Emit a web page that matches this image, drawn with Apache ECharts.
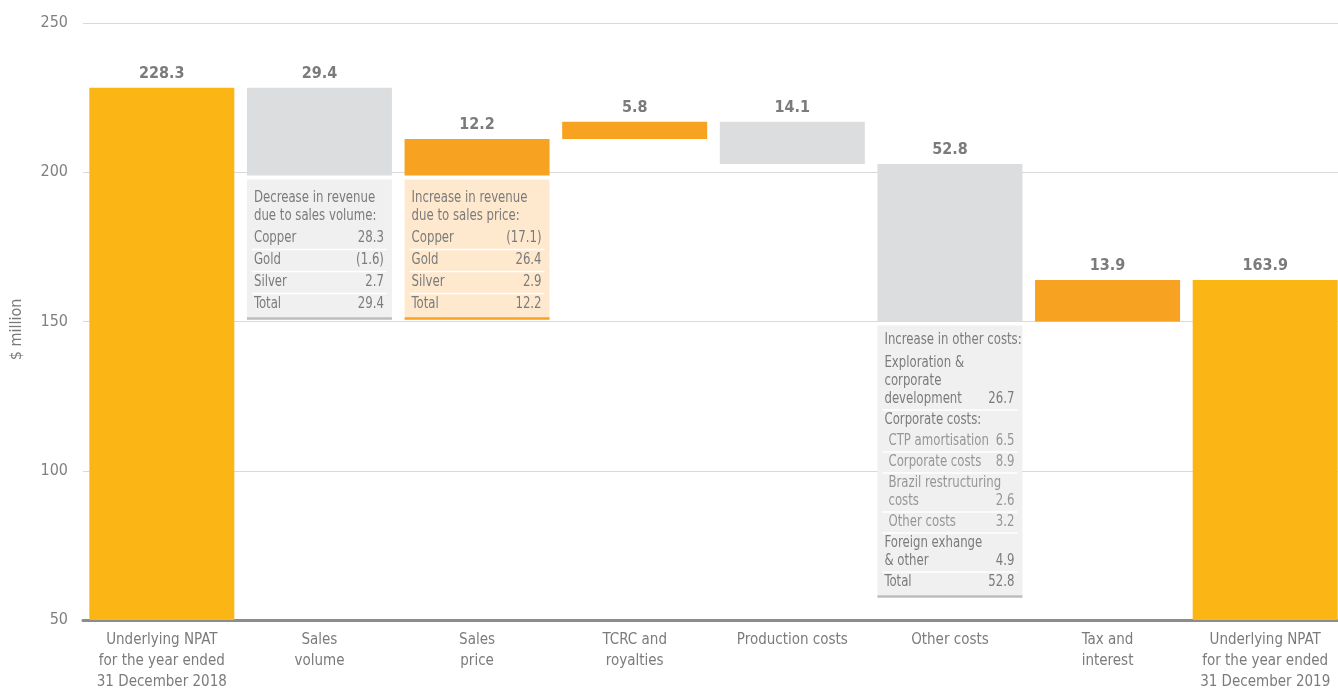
<!DOCTYPE html>
<html>
<head>
<meta charset="utf-8">
<script src="https://cdn.jsdelivr.net/npm/echarts@6/dist/echarts.min.js"></script>
<style>
html,body{margin:0;padding:0;background:#fff;}
#npatChart{width:1338px;height:688px;}
</style>
</head>
<body>
<div id="npatChart"></div>
<script>
// x axis categories
const categories = [
    'Underlying NPAT\nfor the year ended\n31 December 2018',
    'Sales\nvolume',
    'Sales\nprice',
    'TCRC and\nroyalties',
    'Production costs',
    'Other costs',
    'Tax and\ninterest',
    'Underlying NPAT\nfor the year ended\n31 December 2019'
];
// opening figure, movements (+ increase / - decrease), closing figure ($ million)
const openingNpat = 228.3;
const movements = [-29.4, 12.2, 5.8, -14.1, -52.8, 13.9];
const closingNpat = 163.9;
// y axis
const yMin = 50;
const yMax = 250;
const yStep = 50;

// breakdown tables shown under some bars
const volumeHeader = ['Decrease in revenue', 'due to sales volume:'];
const volumeRows = [
    {label: ['Copper'], value: '28.3'},
    {label: ['Gold'], value: '(1.6)'},
    {label: ['Silver'], value: '2.7'},
    {label: ['Total'], value: '29.4'}
];
const priceHeader = ['Increase in revenue', 'due to sales price:'];
const priceRows = [
    {label: ['Copper'], value: '(17.1)'},
    {label: ['Gold'], value: '26.4'},
    {label: ['Silver'], value: '2.9'},
    {label: ['Total'], value: '12.2'}
];
const otherHeader = ['Increase in other costs:'];
const otherRows = [
    {label: ['Exploration &', 'corporate', 'development'], value: '26.7'},
    {label: ['Corporate costs:'], value: ''},
    {label: ['CTP amortisation'], value: '6.5', sub: true},
    {label: ['Corporate costs'], value: '8.9', sub: true},
    {label: ['Brazil restructuring', 'costs'], value: '2.6', sub: true},
    {label: ['Other costs'], value: '3.2', sub: true},
    {label: ['Foreign exhange', '& other'], value: '4.9'},
    {label: ['Total'], value: '52.8'}
];

const FONT = '"Liberation Sans Narrow", "DejaVu Sans Condensed", sans-serif';
const TEXT_GREY = '#7b7b7b';

// build waterfall stacks
let base = [], ends = [], ups = [], downs = [];
let level = openingNpat;
base.push(0); ends.push(openingNpat); ups.push('-'); downs.push('-');
movements.forEach(m => {
    if (m >= 0) {
        base.push(level); ups.push(m); downs.push('-'); ends.push('-');
    } else {
        base.push(level + m); downs.push(-m); ups.push('-'); ends.push('-');
    }
    level = +(level + m).toFixed(1);
});
base.push(0); ends.push(closingNpat); ups.push('-'); downs.push('-');

let myChart = echarts.init(document.getElementById('npatChart'));

const valueLabel = {
    show: true,
    position: 'top',
    distance: 6,
    color: TEXT_GREY,
    fontFamily: FONT,
    fontWeight: 'bold',
    fontSize: 16,
    formatter: p => (+p.value).toFixed(1)
};

let option = {
    animation: false,
    grid: {left: 83, top: 23, width: 1261, height: 597, outerBoundsMode: 'none'},
    xAxis: {
        type: 'category',
        data: categories,
        axisTick: {show: false},
        axisLine: {lineStyle: {color: '#8c8c8c', width: 3}},
        axisLabel: {
            interval: 0,
            color: TEXT_GREY,
            fontFamily: FONT,
            fontSize: 15,
            lineHeight: 21,
            margin: 10
        }
    },
    yAxis: {
        type: 'value',
        min: yMin,
        max: yMax,
        interval: yStep,
        name: '$ million',
        nameLocation: 'middle',
        nameRotate: 90,
        nameGap: 58,
        nameTextStyle: {color: TEXT_GREY, fontFamily: FONT, fontSize: 16, padding: [0, 16, 0, 0]},
        axisLine: {show: false},
        axisTick: {show: false},
        axisLabel: {color: '#808080', fontFamily: FONT, fontSize: 16, margin: 15, padding: [8, 0, 0, 0]},
        splitLine: {lineStyle: {color: '#d9d9d9', width: 1}}
    },
    series: [
        {
            name: 'base', type: 'bar', stack: 'wf', barWidth: 145,
            itemStyle: {color: 'transparent'}, silent: true, data: base
        },
        {
            name: 'NPAT', type: 'bar', stack: 'wf', barWidth: 145,
            itemStyle: {color: '#fbb616'}, label: valueLabel, data: ends
        },
        {
            name: 'Increase', type: 'bar', stack: 'wf', barWidth: 145,
            itemStyle: {color: '#f8a221'}, label: valueLabel, data: ups
        },
        {
            name: 'Decrease', type: 'bar', stack: 'wf', barWidth: 145,
            itemStyle: {color: '#dcddde'}, label: valueLabel, data: downs
        }
    ]
};
myChart.setOption(option);

// one line of table text, squeezed horizontally like the condensed print font
function tableText(text, x, y, color, align) {
    return {
        type: 'text', z: 12, x: x, y: y, scaleX: 0.87,
        style: {text: text, x: 0, y: 0, fill: color, font: '15px ' + FONT,
            textAlign: align || 'left', textVerticalAlign: 'middle'}
    };
}

// draws one breakdown table below the bar at category index idx
function buildTable({idx, header, rows, bg, rule, pad, headerGap, pitch}) {
    const lineH = 18;
    const cx = myChart.convertToPixel({xAxisIndex: 0}, idx);
    const top = myChart.convertToPixel({yAxisIndex: 0}, base[idx]) + 4;
    const left = cx - 72.5, right = cx + 72.5;
    let els = [];
    let y = top + pad;
    header.forEach((h, i) => {
        if (i > 0) y += lineH;
        els.push(tableText(h, left + 7, y, TEXT_GREY));
    });
    y += headerGap;
    rows.forEach((r, ri) => {
        if (ri > 0) y += pitch;
        const col = r.sub ? '#969696' : TEXT_GREY;
        r.label.forEach((l, li) => {
            if (li > 0) y += lineH;
            els.push(tableText(l, left + (r.sub ? 11 : 7), y, col));
        });
        if (r.value) {
            els.push(tableText(r.value, right - 8, y, col, 'right'));
        }
        if (ri < rows.length - 1 && r.value) {
            els.push({type: 'line', z: 11, shape: {x1: left + 5, y1: y + pitch / 2, x2: right - 5, y2: y + pitch / 2},
                style: {stroke: '#ffffff', lineWidth: 1.5}});
        }
    });
    const bottom = y + 13;
    els.unshift({type: 'rect', z: 10, shape: {x: left, y: top, width: 145, height: bottom - top},
        style: {fill: bg}});
    els.push({type: 'line', z: 11, shape: {x1: left, y1: bottom + 1, x2: right, y2: bottom + 1},
        style: {stroke: rule, lineWidth: 2.5}});
    return els;
}

let graphics = []
    .concat(buildTable({idx: 1, header: volumeHeader, rows: volumeRows, bg: '#f0f0f0', rule: '#bcbcbc', pad: 19, headerGap: 22, pitch: 22}))
    .concat(buildTable({idx: 2, header: priceHeader, rows: priceRows, bg: '#fee9cf', rule: '#f8a221', pad: 19, headerGap: 22, pitch: 22}))
    .concat(buildTable({idx: 5, header: otherHeader, rows: otherRows, bg: '#f0f0f0', rule: '#bcbcbc', pad: 15, headerGap: 23, pitch: 21}));

myChart.setOption({graphic: graphics});
</script>
</body>
</html>
